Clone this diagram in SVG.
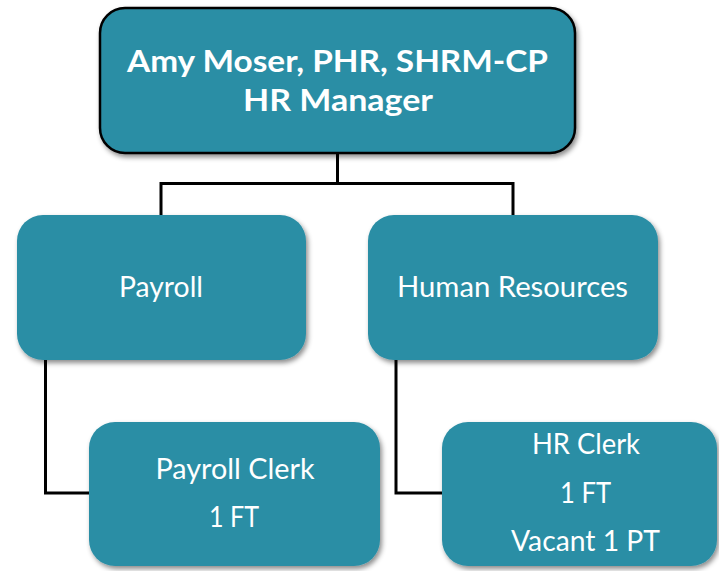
<svg xmlns="http://www.w3.org/2000/svg" width="719" height="571" viewBox="0 0 719 571">
  <defs>
    <filter id="shadow" x="-10%" y="-10%" width="125%" height="130%">
      <feDropShadow dx="2" dy="3" stdDeviation="2.5" flood-color="#000" flood-opacity="0.45"/>
    </filter>
    <style>
      .box { fill: #2c8ea5; filter: url(#shadow); }
      .top { stroke: #000; stroke-width: 2.5; }
      .link { fill: none; stroke: #000; stroke-width: 3; }
      text { fill: #fff; font-family: Lato, "Open Sans", "Liberation Sans", sans-serif; text-anchor: middle; }
      .bold { font-weight: bold; font-size: 30px; }
      .reg { font-size: 28px; }
    </style>
  </defs>
  <rect width="719" height="571" fill="#fff"/>

  <g id="connectors">
    <path class="link" d="M337.5 153 V183.5 H161 V216 M337.5 183.5 H513 V216"/>
    <path class="link" d="M45.5 359 V493 H90"/>
    <path class="link" d="M396 359 V493 H443"/>
  </g>

  <g id="manager">
    <rect class="box top" x="100" y="8" width="475" height="145" rx="25"/>
    <text class="bold" x="337.5" y="72" textLength="421" lengthAdjust="spacingAndGlyphs">Amy Moser, PHR, SHRM-CP</text>
    <text class="bold" x="338" y="111" textLength="190" lengthAdjust="spacingAndGlyphs">HR Manager</text>
  </g>

  <g id="payroll">
    <rect class="box" x="17" y="215" width="289" height="145" rx="26"/>
    <text class="reg" x="161" y="297" textLength="84" lengthAdjust="spacingAndGlyphs">Payroll</text>
  </g>

  <g id="human-resources">
    <rect class="box" x="368" y="215" width="290" height="145" rx="26"/>
    <text class="reg" x="512.5" y="297" textLength="231" lengthAdjust="spacingAndGlyphs">Human Resources</text>
  </g>

  <g id="payroll-clerk">
    <rect class="box" x="89" y="422" width="291" height="144" rx="26"/>
    <text class="reg" x="235" y="479" textLength="159" lengthAdjust="spacingAndGlyphs">Payroll Clerk</text>
    <text class="reg" x="234" y="527" textLength="50" lengthAdjust="spacingAndGlyphs">1 FT</text>
  </g>

  <g id="hr-clerk">
    <rect class="box" x="442" y="422" width="275" height="144" rx="26"/>
    <text class="reg" x="586" y="454" textLength="108" lengthAdjust="spacingAndGlyphs">HR Clerk</text>
    <text class="reg" x="585.5" y="503" textLength="51" lengthAdjust="spacingAndGlyphs">1 FT</text>
    <text class="reg" x="585.5" y="551" textLength="149" lengthAdjust="spacingAndGlyphs">Vacant 1 PT</text>
  </g>
</svg>
